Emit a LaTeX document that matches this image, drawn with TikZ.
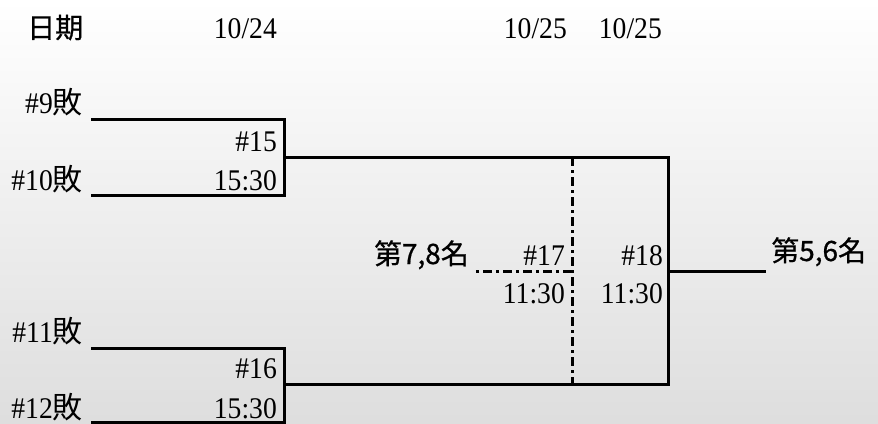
\documentclass[tikz,border=0pt]{standalone}
\usepackage{fontspec}
\setmainfont{Liberation Serif}[FakeStretch=0.92]
\newfontfamily\cjk{Noto Sans CJK TC}
\newfontfamily\cjkb[FakeBold=0.7]{Noto Sans CJK TC}
\tikzset{
  lbl/.style={inner sep=0pt, font=\fontsize{30}{30}\selectfont},
  tag/.style={inner sep=0pt, font=\fontsize{28}{28}\selectfont\cjkb},
  wire/.style={line width=3pt},
  dashwire/.style={line width=3pt, dash pattern=on 9pt off 4pt on 3pt off 4pt},
}
\begin{document}
\begin{tikzpicture}[x=1pt,y=-1pt]
\fill[top color=white, bottom color=black!13] (0,0) rectangle (878,423);
\useasboundingbox (0,0) rectangle (878,423);

\node[tag, anchor=base west] (date) at (27,38){日期};
\node[lbl, anchor=base east] (day1) at (277,38){10/24};
\node[lbl, anchor=base east] (day2) at (567,38){10/25};
\node[lbl, anchor=base east] (day3) at (662,38){10/25};

\node[lbl, anchor=base east] (t9) at (83,113){\#9{\cjk 敗}};
\node[lbl, anchor=base east] (t10) at (83,190){\#10{\cjk 敗}};
\node[lbl, anchor=base east] (t11) at (83,342){\#11{\cjk 敗}};
\node[lbl, anchor=base east] (t12) at (83,418){\#12{\cjk 敗}};

\node[lbl, anchor=base east] (g15) at (277,151){\#15};
\node[lbl, anchor=base east] (h15) at (277,190){15:30};
\node[lbl, anchor=base east] (g16) at (277,378){\#16};
\node[lbl, anchor=base east] (h16) at (277,418){15:30};
\node[lbl, anchor=base east] (g17) at (565,265){\#17};
\node[lbl, anchor=base east] (h17) at (565,303){11:30};
\node[lbl, anchor=base east] (g18) at (663,265){\#18};
\node[lbl, anchor=base east] (h18) at (663,303){11:30};

\node[tag, anchor=base east] (p78) at (469,264){第7,8名};
\node[tag, anchor=base west] (p56) at (771,261){第5,6名};

\coordinate (a9) at (91,119);
\coordinate (a10) at (91,195);
\coordinate (a11) at (91,348);
\coordinate (a12) at (91,422);
\coordinate (w15) at (284,157);
\coordinate (w16) at (284,384);
\coordinate (w17) at (572,271);
\coordinate (w18) at (668,271);
\coordinate (lose) at (476,271);
\coordinate (win) at (766,271);

\draw[wire] (a9) -| (w15) |- (a10);
\draw[wire] (a11) -| (w16) |- (a12);
\draw[wire] (w15) -| (w18) |- (w16);
\draw[wire] (w18) -- (win);
\draw[dashwire] (w17 |- w15) -- (w17 |- w16);
\draw[dashwire] (w17) -- (lose);
\end{tikzpicture}
\end{document}
